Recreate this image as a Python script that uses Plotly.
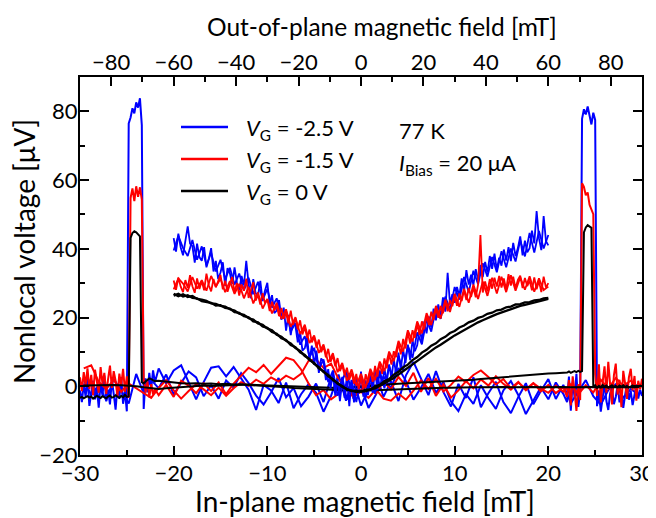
import numpy as np
import plotly.graph_objects as go

# ---------------- field grids (mT) ----------------
ip_dense_neg = np.round(np.arange(-30.0, -21.99, 0.2), 1)   # 41 pts
ip_sparse_a = np.round(np.arange(-21.6, 29.61, 0.8), 1)     # 65 pts
ip_sparse_b = np.round(np.arange(-29.6, 21.61, 0.8), 1)     # 65 pts
ip_dense_pos = np.round(np.arange(22.0, 30.01, 0.2), 1)     # 41 pts
x_inplane_down = np.concatenate([ip_dense_neg, ip_sparse_a])
x_inplane_up = np.concatenate([ip_sparse_b, ip_dense_pos])
x_oop_fine = np.round(np.arange(-60.0, 60.01, 0.75), 2)     # 161 pts
x_oop_coarse = np.round(np.arange(-60.0, 60.01, 1.5), 2)    # 81 pts

legend_labels = ["<i>V</i><sub>G</sub> = -2.5 V",
                 "<i>V</i><sub>G</sub> = -1.5 V",
                 "<i>V</i><sub>G</sub> = 0 V"]
colors = ["#0000FF", "#FF0000", "#000000"]

# ---------------- Hanle (out-of-plane) sweeps, µV ----------------
hanle_blue = [
    43.1, 39.2, 44.4, 40.4, 38.1, 42.0, 46.5, 41.5, 40.8, 36.0, 41.5, 37.6,
    36.5, 40.5, 34.6, 37.0, 40.2, 33.4, 36.5, 31.2, 33.1, 36.1, 29.2, 34.4,
    32.9, 29.8, 34.6, 30.2, 28.0, 32.1, 29.4, 36.5, 29.8, 25.6, 31.2, 27.1,
    26.4, 30.7, 24.8, 27.9, 30.1, 23.8, 26.5, 21.3, 22.0, 25.1, 19.8, 22.9,
    16.2, 20.8, 14.9, 19.1, 17.6, 12.8, 15.9, 10.4, 11.1, 14.2, 7.6, 11.8,
    6.3, 10.4, 3.9, 8.1, 7.2, 1.8, 5.0, -0.6, 3.9, -2.7, 2.1, -4.3,
    1.6, -3.4, 3.2, -5.8, 1.9, -4.7, 2.8, -2.1, 4.3, -3.0, 1.7, -2.6,
    3.8, -1.9, 5.1, -1.2, 4.6, 0.2, 5.3, 1.1, 6.4, 2.2, 7.9, 3.6,
    9.8, 4.9, 10.6, 6.8, 12.1, 7.6, 13.4, 10.2, 11.9, 16.8, 13.2, 18.9,
    15.4, 20.3, 17.1, 22.6, 19.2, 23.8, 20.1, 25.9, 21.7, 33.0, 24.0, 26.8,
    24.3, 28.9, 26.2, 31.4, 27.4, 33.8, 29.6, 32.5, 29.5, 34.1, 30.8, 35.3,
    31.8, 36.2, 33.1, 37.9, 34.2, 38.6, 33.9, 37.4, 35.1, 39.8, 36.6, 40.5,
    36.4, 41.7, 37.9, 40.2, 43.6, 38.1, 42.4, 39.0, 40.2, 45.3, 41.6, 51.0,
    43.1, 39.6, 49.5, 42.2, 41.0]

hanle_blue_2 = [
    39.5, 43.8, 40.2, 37.9, 42.6, 36.8, 40.7, 35.2, 38.9, 33.4,
    36.8, 31.2, 34.5, 29.6, 32.8, 27.9, 31.6, 26.8, 30.4, 25.1,
    28.3, 22.9, 25.6, 19.4, 22.1, 15.9, 18.4, 12.1, 14.6, 8.4,
    11.2, 4.9, 7.8, 1.2, 4.6, -2.8, 2.7, -3.9, 1.8, -4.6,
    2.9, -3.3, 3.1, -2.2, 4.4, -0.6, 5.9, 2.1, 8.7, 4.6,
    11.8, 8.3, 15.7, 12.2, 19.4, 15.9, 22.8, 19.6, 26.1, 22.3,
    28.9, 25.2, 31.8, 27.4, 33.6, 29.7, 35.8, 31.9, 37.6, 33.2,
    39.3, 34.6, 40.1, 36.3, 42.5, 37.8, 44.6, 38.9, 45.2, 40.1,
    44.0]

hanle_red = [
    30.8, 28.1, 31.6, 29.0, 27.4, 30.9, 28.6, 32.3, 29.1, 27.2, 31.4, 28.3,
    30.6, 27.9, 32.8, 29.4, 27.6, 31.2, 28.8, 30.5, 32.4, 28.2, 30.7, 27.5,
    29.9, 31.8, 27.3, 30.1, 26.4, 29.6, 27.8, 31.3, 25.7, 28.4, 30.3, 24.9,
    26.6, 23.8, 27.1, 24.2, 25.3, 21.9, 24.6, 22.1, 23.5, 20.4, 22.8, 19.6,
    21.4, 18.3, 22.0, 17.9, 19.8, 16.6, 19.2, 15.1, 17.2, 14.1, 16.5, 12.8,
    14.3, 11.2, 13.6, 9.9, 11.7, 8.4, 10.9, 7.1, 9.0, 5.8, 8.2, 4.4,
    6.1, 3.2, 5.4, 1.9, 4.0, 0.8, 3.6, -0.9, 2.7, -1.2, 3.5, 1.1,
    4.6, 1.3, 5.9, 2.8, 6.7, 3.6, 8.1, 5.2, 9.4, 6.3, 10.2, 8.5,
    12.6, 9.3, 13.8, 11.0, 15.7, 12.4, 16.3, 14.1, 18.2, 15.0, 18.9, 16.6,
    20.5, 17.8, 21.7, 19.3, 22.6, 19.9, 23.4, 21.2, 24.7, 21.8, 25.1, 23.3,
    26.2, 23.4, 27.0, 24.8, 27.9, 25.1, 28.6, 26.0, 28.7, 25.9, 29.6, 44.0,
    27.3, 30.5, 27.6, 31.2, 28.4, 31.6, 29.0, 32.1, 28.7, 31.4, 28.1, 32.6,
    29.3, 31.9, 28.5, 31.0, 32.2, 28.6, 31.5, 29.1, 30.8, 27.9, 31.7, 28.2,
    30.6, 27.4, 31.9, 28.7, 30.0]

hanle_red_2 = [
    28.2, 31.4, 29.9, 27.6, 31.8, 28.4, 30.9, 27.8, 32.1, 29.0,
    31.3, 27.4, 30.6, 26.9, 29.8, 25.6, 28.9, 24.1, 27.3, 22.6,
    25.4, 21.2, 24.3, 19.6, 22.4, 17.3, 20.1, 15.2, 17.9, 12.6,
    14.8, 9.7, 12.2, 6.9, 9.6, 4.1, 6.8, 1.6, 4.9, 0.2,
    3.6, -0.4, 5.1, 1.8, 7.2, 4.4, 10.1, 7.3, 13.2, 10.1,
    16.3, 13.0, 18.9, 15.4, 21.3, 17.8, 23.4, 19.7, 25.2, 21.6,
    26.9, 23.1, 28.4, 24.3, 29.6, 25.4, 30.5, 26.3, 31.6, 27.0,
    31.9, 27.4, 32.3, 27.8, 31.7, 28.1, 32.0, 27.5, 31.4, 28.0,
    29.0]

hanle_black_a = [
    26.9, 26.2, 26.8, 26.0, 26.3, 25.4, 25.2, 24.9, 24.1, 24.0, 23.4, 23.2,
    22.4, 22.0, 21.1, 20.8, 19.8, 19.4, 18.3, 17.9, 16.8, 16.3, 15.0, 14.4,
    13.2, 12.5, 11.1, 10.3, 8.8, 8.0, 6.5, 5.6, 4.1, 3.3, 1.8, 1.0,
    -0.2, -0.7, -1.4, -1.3, -1.6, -1.0, -0.9, -0.1, 0.4, 1.5, 2.1, 3.4,
    4.2, 5.5, 6.3, 7.6, 8.5, 9.8, 10.6, 11.8, 12.5, 13.7, 14.4, 15.5,
    16.1, 17.1, 17.7, 18.6, 19.1, 19.9, 20.3, 21.1, 21.4, 22.1, 22.3, 23.0,
    23.2, 23.8, 23.9, 24.4, 24.5, 25.0, 25.1, 25.6, 25.7]

hanle_black_b = [
    26.4, 26.9, 26.1, 26.5, 25.7, 25.6, 24.8, 24.5, 24.3, 23.5, 23.6, 22.8,
    22.6, 21.6, 21.4, 20.4, 20.1, 18.9, 18.6, 17.4, 17.0, 15.8, 15.3, 14.0,
    13.5, 12.0, 11.4, 9.9, 9.1, 7.6, 6.8, 5.2, 4.4, 2.9, 2.1, 0.7,
    0.1, -1.0, -1.2, -1.7, -1.4, -1.5, -0.9, -0.6, 0.1, 0.7, 1.6, 2.4,
    3.4, 4.3, 5.4, 6.2, 7.4, 8.3, 9.4, 10.3, 11.3, 12.1, 13.1, 13.9,
    14.8, 15.6, 16.4, 17.2, 17.9, 18.6, 19.2, 19.9, 20.4, 21.0, 21.5, 22.0,
    22.5, 22.9, 23.4, 23.7, 24.1, 24.4, 24.8, 25.1, 25.4]

# ---------------- in-plane spin-valve sweeps, µV ----------------
# "down" sweep: dense -30..-22, sparse -21.6..29.6
sv_blue_down = [
    -1.2, -4.6, 0.8, -3.1, 2.4, -5.7, -1.9, 1.6, -3.8, -0.4, -6.2, 0.9, -2.7,
    3.1, -4.4, -1.0, -5.3, 1.8, -2.2, -6.8, 0.2, -3.6, 2.7, -5.1, -1.4, -7.3,
    76.5, 78.2, 80.9, 79.4, 82.6, 81.1, 83.8, 76.0,
    -6.6, 2.3, -1.8, 3.9, -0.7, 4.6, 1.2,
    5.2, 0.8, 4.6, 6.1, 0.9, -3.8, 1.2, 5.4, 5.8, 2.9, 5.6, 2.1, -1.0,
    -6.9, 0.4, -1.2, -4.9, 1.1, -6.4, -2.3, 0.6, -1.9, -7.4, -2.8, 3.4, -4.2,
    1.9, -5.6, -0.9, 3.8, -3.1, 1.4, -4.3, 3.2, 7.1, 2.0, -2.6, 4.4, -1.7,
    -5.9, 0.7, -3.4, 2.6, -6.1, -2.0, 1.3, -4.6, -7.8, -3.1, 0.9, -5.2, -1.4,
    2.1, -3.7, 0.4, -4.9, -1.6, 1.8, -2.9, -5.4, -1.1, 0.6, -3.3, -0.8, -2.4]

sv_red_down = [
    2.6, -1.4, 4.1, 0.3, 5.2, -0.8, 3.3, -2.6, 4.8, 1.1, -1.9, 5.6, 0.7, 3.9,
    -2.2, 2.1, 6.0, -0.5, 4.4, 1.6, -3.0, 3.7, 0.2, 5.1, -1.6, 2.9, -3.4,
    54.8, 57.6, 53.9, 58.2, 55.1, 57.9, 54.3,
    2.2, -1.8, 1.4, -3.2, 0.6, -2.4, -0.8,
    -2.6, 0.4, -3.1, 1.6, 0.2, -2.0, 0.9, -1.4, 1.1, -2.3, 0.8, 3.2, 5.4,
    4.1, 6.2, 3.6, 5.9, 8.3, 7.6, 4.9, 0.8, -2.6, -1.1, -3.8, -2.2, 0.3,
    -2.9, -1.6, -3.4, -0.9, -3.6, -4.2, -2.1, -3.9, -1.3, 1.7, -0.8, 2.2, -1.5,
    0.4, 2.8, 1.2, 3.3, 4.6, 2.7, 0.5, 2.1, -0.6, 1.3, -1.2, 0.9, -0.7,
    -1.9, 0.2, -1.6, 0.6, -2.3, 0.3, -1.8, 1.9, -0.7, 2.4, 0.2, 1.6, -0.4]

sv_black_down = [
    -3.4, -3.1, -3.5, -3.2, -2.9, -3.3, -3.0, -3.6, -3.2, -2.8, -3.1, -3.4,
    -2.9, -3.2, -3.5, -3.0, -2.7, -3.3, -3.1, -2.6, -3.0, -3.4, -2.8, -3.2,
    -2.5, -3.1, -2.9,
    43.2, 44.6, 45.1, 44.8, 44.3, 43.6,
    1.2, 0.8, 1.4, 1.9, 2.3, 2.1, 1.7, 1.5,
    1.6, 1.3, 1.0, 0.9, 0.8, 0.9, 0.7, 0.8, 0.6, 0.7, 0.5, 0.6, 0.4,
    0.3, 0.1, 0.0, -0.2, -0.3, -0.5, -0.6, -0.8, -0.9, -1.0, -1.2, -1.3, -1.4,
    -1.3, -1.3, -1.2, -1.1, -1.0, -0.9, -0.8, -0.7, -0.6, -0.6, -0.5, -0.5, -0.4,
    -0.4, -0.3, -0.4, -0.3, -0.3, -0.2, -0.3, -0.2, -0.3, -0.2, -0.3, -0.2, -0.3,
    -0.2, -0.3, -0.2, -0.3, -0.2, -0.3, -0.2, -0.3, -0.2, -0.3, -0.2, -0.3, -0.2]

# "up" sweep: sparse -29.6..21.6, dense 22..30
sv_blue_up = [
    1.8, -2.6, 0.4, -4.1, 2.2, -1.5, -5.0, 3.6, -2.1, 1.9, -0.6, 3.4, -2.5,
    1.0, 4.3, 2.6, -2.9, 0.3, -3.6, 1.7, -0.4, 3.8, 0.9, -2.7, -5.3, -1.8,
    2.4, -3.2, -0.5, -5.8, -3.0, 0.8, -4.6, 2.7, -1.3, 4.5, -3.6, 0.2, -6.3,
    -2.4, 2.9, -0.7, 5.3, 1.5, -3.9, -0.4, 3.6, -1.9, 1.2, -4.4, -7.2, -2.3,
    -5.1, 0.3, -3.5, -6.6, -1.2, 1.5, -2.6, -8.1, -4.2, -0.3, -3.8, 1.1, -2.2,
    -4.6, 2.8, -7.1, 1.4, -3.2, 3.6, -6.0, -1.5,
    77.8, 80.6, 79.1, 81.4, 78.3, 76.2, 79.6, 77.5,
    -5.8, -1.2, -7.4, -2.9, 0.8, -4.3, -6.9, -2.0, -0.6, -5.2, -3.1, 0.3, -4.7,
    -1.8, -6.3, -2.5, 0.9, -3.9, -1.4, -5.5, -2.2, 0.5, -3.6, -1.0, -2.8]

sv_red_up = [
    5.2, 6.1, 1.3, -0.8, 1.9, -1.6, 0.8, -0.6, -1.9, -3.4, -0.5, 1.8, -1.2,
    -3.6, -1.4, 0.6, -0.9, -2.6, -0.4, -2.8, -0.6, 1.2, 0.1, 1.9, 0.7, 2.6,
    1.4, 3.1, 2.0, 3.6, 7.4, 7.9, 5.3, 6.6, 2.1, -0.7, -3.2, -1.1, 0.9,
    -2.1, 1.5, -0.9, 2.7, 0.1, 3.9, -1.6, 2.4, -2.8, 0.6, -3.3, -1.2, 1.5,
    -0.6, 2.0, 0.2, 2.9, 0.7, -1.0, 1.1, -0.8, 0.9, -1.5, 0.4, -2.0, -0.3,
    -3.1, 1.8, -5.6, 2.9, -1.4, -7.2, 0.6, -4.0,
    59.1, 58.0, 55.6, 56.4, 52.8, 51.2, 50.1,
    3.6, -2.8, 6.4, -4.7, 1.2, 5.8, -1.9, 7.1, 0.4, -5.3, 3.2, 6.6, -2.4,
    1.9, -6.1, 4.5, 0.8, -3.7, 2.6, 5.1, -1.2, 3.0, -4.2, 1.6, -0.9, 2.2]

sv_black_up = [
    0.2, 0.3, 0.4, 0.3, 0.4, 0.3, 0.2, 0.0, -0.3, -0.6, -0.8, -0.6, -0.4,
    -0.2, 0.0, 0.1, 0.2, 0.1, 0.2, 0.3, 0.2, 0.3, 0.5, 0.4, 0.3, 0.2,
    0.3, 0.1, 0.0, -0.2, -0.3, -0.4, -0.5, -0.6, -0.5, -0.4, -0.2, 0.0, 0.2,
    0.4, 0.5, 0.6, 0.7, 0.8, 0.9, 1.0, 1.1, 1.2, 1.3, 1.4, 1.6, 1.7,
    1.9, 2.1, 2.3, 2.5, 2.7, 2.9, 3.1, 3.2, 3.4, 3.5, 3.7, 3.8, 3.9,
    4.0, 4.3, 3.9, 4.2, 4.4, 4.1, 4.5, 4.2, 4.4,
    44.8, 46.2, 46.9, 46.5, 46.1,
    -0.2, 0.3, -0.5, 0.1, -0.3, 0.4, -0.1, 0.2, -0.4, 0.0, 0.3, -0.2, 0.1,
    -0.3, 0.2, -0.1, 0.3, -0.2, 0.1, -0.4, 0.0, 0.2, -0.3, 0.1, -0.2, 0.2, -0.1]

hanle_sets = [[hanle_blue, hanle_blue_2], [hanle_red, hanle_red_2],
              [hanle_black_a, hanle_black_b]]
sv_down = [sv_blue_down, sv_red_down, sv_black_down]
sv_up = [sv_blue_up, sv_red_up, sv_black_up]

FONT = "Lato"
TICK_SIZE = 22
TOP_TITLE_SIZE = 24.5
TITLE_SIZE = 28
TEXT_SIZE = 22

fig = go.Figure()

for i, col in enumerate(colors):
    fig.add_trace(go.Scatter(x=x_inplane_down, y=sv_down[i], mode="lines",
                             line=dict(color=col, width=2.0), showlegend=False,
                             xaxis="x", yaxis="y"))
    fig.add_trace(go.Scatter(x=x_inplane_up, y=sv_up[i], mode="lines",
                             line=dict(color=col, width=2.0), showlegend=False,
                             xaxis="x", yaxis="y"))
    for h in hanle_sets[i]:
        xs = x_oop_fine if len(h) == len(x_oop_fine) else x_oop_coarse
        fig.add_trace(go.Scatter(x=xs, y=h, mode="lines",
                                 line=dict(color=col, width=2.3 if i == 2 else 1.8),
                                 showlegend=False, xaxis="x2", yaxis="y"))

# page offset of the figure div (default body margin)
OFF = 8
# plot-area geometry in page pixels
PL, PR, PT, PB = 80, 642, 77, 455
W, H = 648, 510
L, T = PL - OFF, PT - OFF
R, B = W - (PR - OFF), H - (PB - OFF)
pw, ph = PR - PL, PB - PT

def px(xp):
    return (xp - PL) / pw

def py(yp):
    return (PB - yp) / ph

axis_common = dict(showgrid=False, zeroline=False, showline=True, linecolor="black",
                   linewidth=2, ticks="inside", tickcolor="black", tickwidth=2,
                   ticklen=9, tickfont=dict(family=FONT, size=TICK_SIZE, color="black"))
minor_common = dict(ticks="inside", ticklen=5, tickwidth=2, tickcolor="black")

fig.update_layout(
    width=W, height=H,
    margin=dict(l=L, r=R, t=T, b=B, pad=0, autoexpand=False),
    paper_bgcolor="white", plot_bgcolor="white",
    font=dict(family=FONT, size=TEXT_SIZE, color="black"),
    showlegend=False,
    xaxis=dict(range=[-30, 30], tick0=-30, dtick=10, minor=dict(dtick=5, **minor_common),
               ticklabelstandoff=-2, **axis_common),
    xaxis2=dict(range=[-90, 90], tick0=-80, dtick=20, overlaying="x", side="top",
                minor=dict(dtick=10, **minor_common), ticklabelstandoff=-4,
                **axis_common),
    yaxis=dict(range=[-20, 90], tick0=-20, dtick=20, mirror="ticks",
               minor=dict(dtick=10, **minor_common), ticklabelstandoff=-4, **axis_common),
)

ann = []
ann.append(dict(text="In-plane magnetic field [mT]", xref="paper", yref="paper",
                x=px(365), y=py(501), showarrow=False, xanchor="center", yanchor="middle",
                font=dict(family=FONT, size=TITLE_SIZE)))
ann.append(dict(text="Out-of-plane magnetic field [mT]", xref="paper", yref="paper",
                x=px(382), y=py(26), showarrow=False, xanchor="center", yanchor="middle",
                font=dict(family=FONT, size=TOP_TITLE_SIZE)))
ann.append(dict(text="Nonlocal voltage [μV]", xref="paper", yref="paper",
                x=px(24), y=py(252), showarrow=False, textangle=-90,
                xanchor="center", yanchor="middle", font=dict(family=FONT, size=TITLE_SIZE)))

shapes = []
leg_y = [127, 159, 191]
for lab, col, yy in zip(legend_labels, colors, leg_y):
    shapes.append(dict(type="line", xref="paper", yref="paper",
                       x0=px(181), x1=px(228), y0=py(yy), y1=py(yy),
                       line=dict(color=col, width=2.5)))
    ann.append(dict(text=lab, xref="paper", yref="paper", x=px(244), y=py(yy + 2),
                    showarrow=False, xanchor="left", yanchor="middle",
                    font=dict(family=FONT, size=TEXT_SIZE)))

ann.append(dict(text="77 K", xref="paper", yref="paper", x=px(397), y=py(130),
                showarrow=False, xanchor="left", yanchor="middle",
                font=dict(family=FONT, size=TEXT_SIZE)))
ann.append(dict(text="<i>I</i><sub>Bias</sub> = 20 μA", xref="paper", yref="paper",
                x=px(397), y=py(164), showarrow=False, xanchor="left", yanchor="middle",
                font=dict(family=FONT, size=TEXT_SIZE)))

fig.update_layout(annotations=ann, shapes=shapes)
fig.write_html("out.html")
